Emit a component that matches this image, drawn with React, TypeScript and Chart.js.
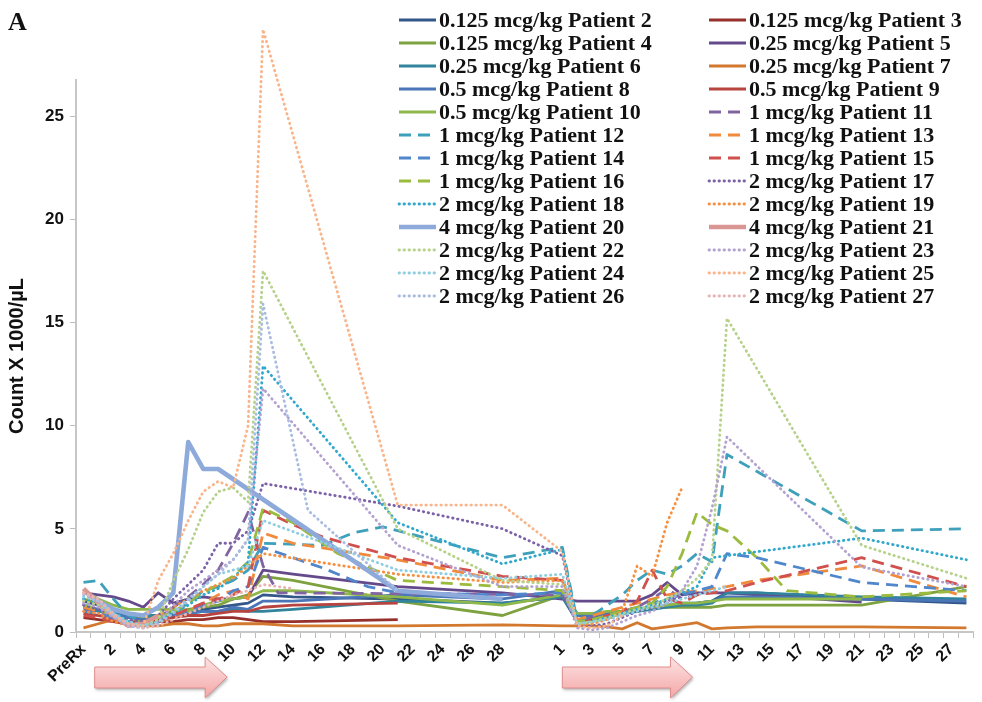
import { useEffect, useRef } from "react";
import { Chart, registerables } from "chart.js";

Chart.register(...registerables);

const _ = null;

// ---------- category labels ----------
const cycle1Labels = ["PreRx", "1", "2", "3", "4", "5", "6", "7", "8", "9", "10", "11", "12", "13", "14", "15", "16", "17", "18", "19", "20", "21", "22", "23", "24", "25", "26", "27", "28", "29"];
const gapLabels = ["", ""];
const cycle2Labels = ["1", "2", "3", "4", "5", "6", "7", "8", "9", "10", "11", "12", "13", "14", "15", "16", "17", "18", "19", "20", "21", "22", "23", "24", "25", "26", "27", "28"];
const yTickValues = [0, 5, 10, 15, 20, 25];

// ---------- series (cycle 1: PreRx, day 1..29 ; cycle 2: day 1..28) ----------
const p2c1 = [1.5, 1.3, 1.0, 0.8, 0.7, 0.8, 0.9, 1.0, 1.1, 1.2, 1.3, 1.4, 1.8, _, 1.7, _, _, _, _, _, _, 1.6, _, _, _, _, _, _, 1.4];
const p2c2 = [1.7, 0.5, 0.6, 0.7, 0.9, 1.0, 1.2, 1.3, 1.3, 1.4, 1.5, 1.9, _, 1.9, _, _, _, _, _, _, 1.6, _, _, _, _, _, _, 1.4];
const p3c1 = [0.7, 0.6, 0.5, 0.4, 0.4, 0.5, 0.5, 0.6, 0.6, 0.7, 0.7, 0.6, 0.5, _, 0.5, _, _, _, _, _, _, 0.6];
const p3c2: (number | null)[] = [];
const p4c1 = [1.6, 1.4, 1.0, 0.8, 0.7, 0.8, 1.0, 1.1, 1.2, 1.3, 1.6, 1.8, 2.7, _, 2.5, _, _, _, _, _, _, 1.5, _, _, _, _, _, _, 0.8];
const p4c2 = [1.8, 0.9, 0.9, 0.9, 1.0, 1.1, 1.2, 1.2, 1.2, 1.2, 1.2, 1.3, _, 1.3, _, _, _, _, _, _, 1.3, _, _, _, _, _, _, 2.2];
const p5c1 = [1.9, 1.8, 1.7, 1.5, 1.2, 1.9, 1.4, 1.6, 1.7, 1.6, 1.6, 1.7, 3.0, _, 2.8, _, _, _, _, _, _, 2.2, _, _, _, _, _, _, 1.9];
const p5c2 = [1.6, 1.5, 1.5, 1.5, 1.5, 1.5, 1.8, 2.4, 1.8, 1.9, 1.9, 1.9, _, 1.8, _, _, _, _, _, _, 1.45];
const p6c1 = [1.2, 1.0, 0.9, 0.8, 0.8, 0.8, 0.8, 0.9, 1.0, 1.0, 1.1, 1.0, 1.0, _, 1.1, _, _, _, _, _, _, 1.5, _, _, _, _, _, _, 1.4];
const p6c2 = [1.7, 0.6, 0.7, 0.8, 0.9, 1.0, 1.1, 1.2, 1.3, 1.3, 1.4, 1.9, _, 1.9, _, _, _, _, _, _, 1.7, _, _, _, _, _, _, 1.6];
const p7c1 = [0.2, 0.4, 0.6, 0.4, 0.3, 0.3, 0.4, 0.4, 0.3, 0.3, 0.4, 0.4, 0.4, _, 0.3, _, _, _, _, _, _, 0.3, _, _, _, _, _, _, 0.35];
const p7c2 = [0.3, 0.3, 0.3, 0.25, 0.15, 0.45, 0.15, 0.25, 0.35, 0.45, 0.15, 0.2, _, 0.25, _, _, _, _, _, _, 0.25, _, _, _, _, _, _, 0.2];
const p8c1 = [1.3, 1.1, 0.9, 0.7, 0.6, 0.7, 0.8, 0.9, 1.0, 1.0, 1.2, 1.1, 1.5, _, 1.5, _, _, _, _, _, _, 1.8, _, _, _, _, _, _, 1.6];
const p8c2 = [2.0, 0.8, 0.8, 0.9, 1.0, 1.1, 1.2, 1.3, 1.4, 1.4, 1.5, 1.7, _, 1.7, _, _, _, _, _, _, 1.6, _, _, _, _, _, _, 1.5];
const p9c1 = [0.9, 0.8, 0.7, 0.5, 0.5, 0.6, 0.7, 0.8, 0.8, 0.9, 1.0, 1.0, 1.2, _, 1.3, _, _, _, _, _, _, 1.4];
const p9c2: (number | null)[] = [];
const p10c1 = [2.0, 1.6, 1.3, 1.1, 1.1, 1.1, 1.1, 1.0, 1.3, 1.5, 1.6, 1.7, 2.0, _, 2.0, _, _, _, _, _, _, 1.7, _, _, _, _, _, _, 1.3];
const p10c2 = [1.8, 0.9, 0.9, 1.0, 1.0, 1.1, 1.2, 1.3, 1.4, 1.4, 1.5, 1.6, _, 1.6, _, _, _, _, _, _, 1.6];
const p11c1 = [1.1, 0.9, 0.6, 0.4, 0.4, 0.7, 1.2, 1.7, 2.3, 3.0, 4.3, 5.8, 3.2, 1.9];
const p11c2 = [1.8, 0.6, 0.7, 0.8, 1.0, 1.2, 1.6, 2.1, 1.6, 1.8, 2.2];
const p12c1 = [2.4, 2.5, 1.6, 0.8, 0.5, 0.6, 0.9, 1.4, 2.0, 2.2, 2.5, 3.0, 4.3, _, _, _, 4.2, _, 4.8, _, 5.1, _, _, _, _, _, _, _, 3.6];
const p12c2 = [4.1, 0.5, 0.8, 1.3, 1.8, 2.5, 3.0, 2.8, 3.2, 3.8, 3.4, 8.6, _, _, _, _, _, _, _, _, 4.9, _, _, _, _, _, _, 5.0];
const p13c1 = [1.2, 1.0, 0.8, 0.5, 0.4, 0.5, 0.7, 1.0, 1.4, 1.8, 2.0, 1.6, 4.8, _, 4.3, _, _, _, _, _, _, 3.5, _, _, _, _, _, _, 2.5];
const p13c2 = [2.6, 0.6, 0.8, 1.0, 1.2, 1.4, 1.6, 1.8, 1.9, 2.0, 2.1, 2.2, _, 2.5, _, _, _, _, _, _, 3.2, _, _, _, _, _, _, 1.7];
const p14c1 = [1.0, 0.9, 0.7, 0.5, 0.4, 0.5, 0.8, 1.0, 1.3, 1.5, 2.0, 2.2, 4.1, _, _, _, 3.1, _, _, 2.2, _, 1.9, _, _, _, _, _, _, 1.8];
const p14c2 = [1.9, 0.5, 0.6, 0.8, 1.0, 1.2, 1.4, 1.6, 1.8, 2.0, 2.2, 3.8, _, 3.6, _, _, _, _, _, _, 2.4, _, _, _, _, _, _, 2.0];
const p15c1 = [0.8, 0.7, 0.5, 0.4, 0.4, 0.5, 0.8, 1.1, 1.4, 1.6, 1.8, 2.2, 5.9, _, 5.2, _, 4.6, _, _, _, _, 3.6, _, _, _, _, _, _, 2.7];
const p15c2 = [2.5, 0.4, 0.6, 0.8, 1.0, 1.5, 3.0, 1.6, 1.4, 1.8, 1.9, 2.0, _, 2.4, _, _, _, _, _, _, 3.6, _, _, _, _, _, _, 2.2];
const p16c1 = [1.3, 1.1, 0.8, 0.5, 0.5, 0.7, 1.0, 1.4, 1.9, 2.3, 2.7, 3.4, 6.0, _, 5.3, _, _, 3.8, _, _, _, 2.5, _, _, _, _, _, _, 2.2];
const p16c2 = [2.0, 0.5, 0.6, 0.8, 1.0, 1.2, 1.4, 2.2, 3.8, 5.8, 5.2, 4.9, _, 3.6, _, 2.0, _, _, _, _, 1.7, _, _, _, _, _, _, 2.0];
const p17c1 = [1.3, 1.1, 0.8, 0.6, 0.5, 0.8, 1.6, 2.3, 3.0, 4.3, 4.3, 4.9, 7.2, _, _, _, _, _, _, _, _, 6.1, _, _, _, _, _, _, 5.0];
const p17c2 = [3.7, 0.3, 0.3, 0.4, 0.7, 1.0, 1.2, 1.5, 1.7];
const p18c1 = [1.6, 1.4, 1.0, 0.5, 0.3, 0.5, 0.9, 1.3, 1.8, 2.1, 2.6, 3.4, 12.9, _, _, _, _, _, _, _, _, 5.3, _, _, _, _, _, _, 3.3];
const p18c2 = [4.0, 0.4, 0.5, 0.7, 0.9, 1.1, 1.3, 1.6, 1.9, 2.2, 3.6, 3.7, _, _, _, _, _, _, _, _, 4.55, _, _, _, _, _, _, 3.5];
const p19c1 = [1.0, 0.9, 0.5, 0.3, 0.3, 0.8, 1.2, 1.6, 2.0, 2.3, 2.6, 3.2, 3.8, _, _, _, _, _, _, _, _, 2.8, _, _, _, _, _, _, 2.4];
const p19c2 = [2.5, 0.4, 0.4, 0.6, 1.0, 3.2, 2.7, 5.3, 7.0];
const p20c1 = [2.0, 1.5, 1.1, 0.9, 0.8, 1.2, 1.9, 9.2, 7.9, 7.9, _, _, _, _, _, _, _, _, _, _, _, 2.0, _, _, _, _, _, _, 1.6];
const p20c2: (number | null)[] = [];
const p21c1 = [2.1, 1.4, 0.8, 0.3, 0.4, 0.8];
const p21c2: (number | null)[] = [];
const p22c1 = [1.5, 1.3, 0.8, 0.4, 0.3, 0.6, 2.5, 4.0, 5.8, 6.8, 7.0, 6.3, 17.5, _, _, _, _, _, _, _, _, 5.0, _, _, _, _, _, _, 2.5];
const p22c2 = [2.3, 0.4, 0.5, 0.7, 0.9, 1.1, 1.3, 1.6, 2.0, 2.6, 3.5, 15.2, _, _, _, _, _, _, _, _, 4.2, _, _, _, _, _, _, 2.6];
const p23c1 = [1.4, 1.2, 0.7, 0.3, 0.2, 0.5, 1.3, 2.0, 2.5, 3.0, 3.5, 4.5, 11.8, _, _, _, _, _, _, _, _, 4.2, _, _, _, _, _, _, 2.2];
const p23c2 = [2.2, 0.2, 0.1, 0.2, 0.5, 0.8, 1.0, 1.4, 2.0, 3.2, 6.0, 9.45, _, _, _, _, _, _, _, _, 3.15, _, _, _, _, _, _, 2.2];
const p24c1 = [1.7, 1.5, 0.9, 0.5, 0.3, 0.5, 1.0, 1.6, 2.2, 2.8, 3.0, 3.2, 5.4, _, _, _, _, _, _, _, _, 3.0, _, _, _, _, _, _, 2.6];
const p24c2 = [2.8, 0.4, 0.5, 0.6, 0.8, 1.0, 1.2, 1.4, 1.6, 1.8, 2.0, 2.2];
const p25c1 = [1.9, 1.6, 0.8, 0.4, 0.3, 2.5, 3.8, 5.4, 6.8, 7.3, 7.0, 10.0, 29.2, _, _, _, _, _, _, _, _, 6.15, _, _, _, _, _, _, 6.15];
const p25c2 = [3.9, 0.3, 0.2, 0.3, 0.8];
const p26c1 = [1.8, 1.5, 0.8, 0.3, 0.2, 0.4, 0.9, 1.5, 2.2, 2.8, 3.5, 4.5, 15.9, _, _, 5.9, _, _, _, _, _, 2.0];
const p26c2: (number | null)[] = [];
const p27c1 = [1.9, 1.6, 0.9, 0.4, 0.2, 0.3, 0.6, 0.9, 1.2, 1.5, 1.8, 2.0, 2.3, _, 2.1];
const p27c2: (number | null)[] = [];

// ---------- series meta ----------
const seriesNames = [
  "0.125 mcg/kg Patient 2", "0.125 mcg/kg Patient 3", "0.125 mcg/kg Patient 4", "0.25 mcg/kg Patient 5",
  "0.25 mcg/kg Patient 6", "0.25 mcg/kg Patient 7", "0.5 mcg/kg Patient 8", "0.5 mcg/kg Patient 9",
  "0.5 mcg/kg Patient 10", "1 mcg/kg Patient 11", "1 mcg/kg Patient 12", "1 mcg/kg Patient 13",
  "1 mcg/kg Patient 14", "1 mcg/kg Patient 15", "1 mcg/kg Patient 16", "2 mcg/kg Patient 17",
  "2 mcg/kg Patient 18", "2 mcg/kg Patient 19", "4 mcg/kg Patient 20", "4 mcg/kg Patient 21",
  "2 mcg/kg Patient 22", "2 mcg/kg Patient 23", "2 mcg/kg Patient 24", "2 mcg/kg Patient 25",
  "2 mcg/kg Patient 26", "2 mcg/kg Patient 27",
];
const seriesColors = [
  "#34578A", "#96302D", "#7EA23F", "#654A8B", "#31849B", "#D2782F", "#4A76B8", "#B84440",
  "#8FB84A", "#8064A2", "#3EA0BA", "#F08A3C", "#4F86CC", "#D0504D", "#9BBB3F", "#7B61A8",
  "#30A8CC", "#F59040", "#8EAADB", "#D99694", "#B5D18A", "#B3A2D0", "#8FCDE0", "#F9B48A",
  "#A9BCE0", "#E6B4B4",
];
const seriesStyles = [
  "solid", "solid", "solid", "solid", "solid", "solid", "solid", "solid", "solid",
  "dash", "dash", "dash", "dash", "dash", "dash",
  "dot", "dot", "dot", "thick", "thick",
  "dot", "dot", "dot", "dot", "dot", "dot",
];
const cycle1Data = [p2c1, p3c1, p4c1, p5c1, p6c1, p7c1, p8c1, p9c1, p10c1, p11c1, p12c1, p13c1, p14c1, p15c1, p16c1, p17c1, p18c1, p19c1, p20c1, p21c1, p22c1, p23c1, p24c1, p25c1, p26c1, p27c1];
const cycle2Data = [p2c2, p3c2, p4c2, p5c2, p6c2, p7c2, p8c2, p9c2, p10c2, p11c2, p12c2, p13c2, p14c2, p15c2, p16c2, p17c2, p18c2, p19c2, p20c2, p21c2, p22c2, p23c2, p24c2, p25c2, p26c2, p27c2];

// arrows: [start, tip] in category units
const arrowSpans = [[0.75, 9.6], [32.0, 40.7]];

function padTo(arr: (number | null)[], n: number) {
  const out: (number | null)[] = [];
  for (let i = 0; i < n; i++) out.push(i < arr.length ? arr[i] : null);
  return out;
}

function styleFor(kind: string) {
  if (kind === "dash") return { borderWidth: 2.8, borderDash: [12, 7], borderCapStyle: "butt" };
  if (kind === "dot") return { borderWidth: 2.8, borderDash: [0.5, 4.5], borderCapStyle: "round" };
  if (kind === "thick") return { borderWidth: 4.6, borderDash: [], borderCapStyle: "butt" };
  return { borderWidth: 2.8, borderDash: [], borderCapStyle: "butt" };
}

const legendPlugin = {
  id: "twoColLegend",
  afterDraw(chart: any) {
    const ctx = chart.ctx;
    ctx.save();
    chart.data.datasets.forEach((ds: any, i: number) => {
      const col = i % 2;
      const row = Math.floor(i / 2);
      const lx = col === 0 ? 399 : 709;
      const y = 20 + row * 23;
      ctx.strokeStyle = ds.borderColor;
      ctx.lineWidth = ds.borderWidth;
      ctx.setLineDash(ds.borderDash || []);
      ctx.lineCap = ds.borderCapStyle || "butt";
      ctx.beginPath();
      ctx.moveTo(lx, y);
      ctx.lineTo(lx + 37, y);
      ctx.stroke();
      ctx.setLineDash([]);
      ctx.fillStyle = "#111";
      ctx.font = 'bold 22px "Liberation Serif", "Times New Roman", serif';
      ctx.textBaseline = "middle";
      ctx.textAlign = "left";
      ctx.fillText(ds.label, lx + 40, y + 1);
    });
    ctx.font = 'bold 26px "Liberation Serif", "Times New Roman", serif';
    ctx.textBaseline = "alphabetic";
    ctx.fillStyle = "#111";
    ctx.fillText("A", 8, 30);
    ctx.restore();
  },
};

const arrowPlugin = {
  id: "pinkArrows",
  afterDraw(chart: any) {
    const ctx = chart.ctx;
    const xs = chart.scales.x;
    const px = (v: number) => {
      const f = Math.floor(v);
      const a = xs.getPixelForValue(f);
      const b = xs.getPixelForValue(f + 1);
      return a + (v - f) * (b - a);
    };
    ctx.save();
    arrowSpans.forEach(([s, t]) => {
      const x0 = px(s);
      const x2 = px(t);
      const x1 = x2 - 22;
      const yMid = 677;
      const shaftTop = 667, shaftBot = 688, headTop = 657, headBot = 698;
      const g = ctx.createLinearGradient(0, headTop, 0, headBot);
      g.addColorStop(0, "#FDE3E3");
      g.addColorStop(1, "#F4A6A6");
      ctx.shadowColor = "rgba(0,0,0,0.3)";
      ctx.shadowBlur = 3;
      ctx.shadowOffsetX = 1;
      ctx.shadowOffsetY = 2;
      ctx.beginPath();
      ctx.moveTo(x0, shaftTop);
      ctx.lineTo(x1, shaftTop);
      ctx.lineTo(x1, headTop);
      ctx.lineTo(x2, yMid);
      ctx.lineTo(x1, headBot);
      ctx.lineTo(x1, shaftBot);
      ctx.lineTo(x0, shaftBot);
      ctx.closePath();
      ctx.fillStyle = g;
      ctx.fill();
      ctx.shadowColor = "transparent";
      ctx.strokeStyle = "#DE8E8E";
      ctx.lineWidth = 1;
      ctx.stroke();
    });
    ctx.restore();
  },
};

export default function App() {
  const canvasRef = useRef<HTMLCanvasElement | null>(null);

  useEffect(() => {
    const canvas = canvasRef.current;
    if (!canvas) return;
    const labels = [...cycle1Labels, ...gapLabels, ...cycle2Labels];
    const datasets = seriesNames.map((name, i) => {
      const st: any = styleFor(seriesStyles[i]);
      return {
        label: name,
        data: [...padTo(cycle1Data[i], cycle1Labels.length), null, null, ...padTo(cycle2Data[i], cycle2Labels.length)],
        borderColor: seriesColors[i],
        backgroundColor: seriesColors[i],
        borderWidth: st.borderWidth,
        borderDash: st.borderDash,
        borderCapStyle: st.borderCapStyle,
        borderJoinStyle: "round",
        pointRadius: 0,
        pointHoverRadius: 0,
        tension: 0,
        spanGaps: true,
        fill: false,
        clip: false,
        order: seriesNames.length - i,
      };
    });

    const tickFont = { family: '"Liberation Sans", Arial, Helvetica, sans-serif', weight: "bold" as const };

    const chart = new Chart(canvas, {
      type: "line",
      data: { labels, datasets: datasets as any },
      plugins: [legendPlugin, arrowPlugin],
      options: {
        animation: false,
        responsive: false,
        maintainAspectRatio: false,
        layout: { padding: { top: 80, right: 2, left: 0, bottom: 0 } },
        plugins: {
          legend: { display: false },
          tooltip: { enabled: false },
          title: { display: false },
        },
        scales: {
          x: {
            type: "category",
            offset: true,
            grid: { display: true, drawOnChartArea: false, drawTicks: true, tickLength: 6, color: "#bdbdbd", offset: true },
            border: { display: true, color: "#c6c6c6", width: 2 },
            ticks: {
              autoSkip: false,
              minRotation: 45,
              maxRotation: 45,
              padding: 2,
              color: "#111",
              font: { ...tickFont, size: 16 },
              callback: function (this: any, value: any, index: number) {
                return index % 2 === 0 ? this.getLabelForValue(value) : "";
              },
            },
            afterFit: (s: any) => {
              s.height = 70;
            },
          } as any,
          y: {
            min: 0,
            max: 26.75,
            afterBuildTicks: (s: any) => {
              s.ticks = yTickValues.map((v) => ({ value: v }));
            },
            grid: { display: true, drawOnChartArea: false, drawTicks: true, tickLength: 6, color: "#bdbdbd" },
            border: { display: true, color: "#c6c6c6", width: 2 },
            ticks: { color: "#111", padding: 6, font: { ...tickFont, size: 17 } },
            title: {
              display: true,
              text: "Count X 1000/µL",
              color: "#111",
              font: { ...tickFont, size: 20 },
              padding: { top: 5, bottom: 0 },
            },
            afterFit: (s: any) => {
              s.width = 76;
            },
          } as any,
        },
      },
    });
    return () => chart.destroy();
  }, []);

  return (
    <div style={{ position: "absolute", left: 0, top: 0, width: 982, height: 702, background: "#fff" }}>
      <canvas ref={canvasRef} width={982} height={702} style={{ display: "block" }} />
    </div>
  );
}
